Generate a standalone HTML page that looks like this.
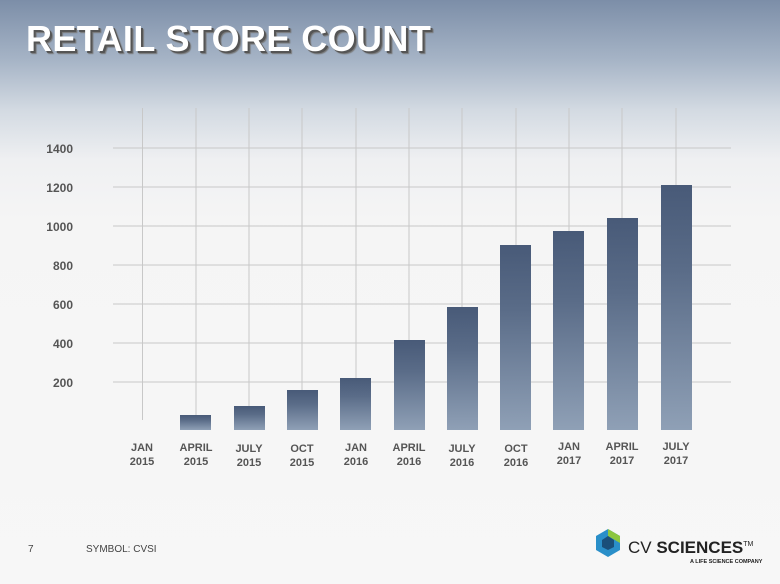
<!DOCTYPE html>
<html><head><style>
body{margin:0;width:780px;height:584px;overflow:hidden;font-family:"Liberation Sans",Arial,sans-serif;}
#bg{position:absolute;left:0;top:0;width:780px;height:584px;background:linear-gradient(to bottom,#7c8ea8 0px,#a6b4c6 60px,#d3dae2 110px,#eff0f2 160px,#f5f5f5 220px,#f7f7f7 584px);}
h1{position:absolute;left:26px;top:18px;margin:0;font-size:36px;font-weight:bold;color:#fff;letter-spacing:0.4px;text-shadow:2px 2px 0 #555,3px 3px 1px #777;}
</style></head><body>
<div id="bg"></div>
<h1>RETAIL STORE COUNT</h1>
<svg width="780" height="584" style="position:absolute;left:0;top:0" font-family="Liberation Sans, Arial, sans-serif">
<defs><linearGradient id="g" x1="0" y1="0" x2="0" y2="1"><stop offset="0" stop-color="#485a78"/><stop offset="0.35" stop-color="#5a6c88"/><stop offset="1" stop-color="#8fa0b6"/></linearGradient></defs>
<g stroke="#c8c8c8" stroke-width="1">
<line x1="113" y1="148" x2="731" y2="148"/><line x1="113" y1="187" x2="731" y2="187"/><line x1="113" y1="226" x2="731" y2="226"/><line x1="113" y1="265" x2="731" y2="265"/><line x1="113" y1="304" x2="731" y2="304"/><line x1="113" y1="343" x2="731" y2="343"/><line x1="113" y1="382" x2="731" y2="382"/>
<line x1="142.5" y1="108" x2="142.5" y2="420"/><line x1="196" y1="108" x2="196" y2="420"/><line x1="249" y1="108" x2="249" y2="420"/><line x1="302" y1="108" x2="302" y2="420"/><line x1="356" y1="108" x2="356" y2="420"/><line x1="409" y1="108" x2="409" y2="420"/><line x1="462" y1="108" x2="462" y2="420"/><line x1="516" y1="108" x2="516" y2="420"/><line x1="569" y1="108" x2="569" y2="420"/><line x1="622" y1="108" x2="622" y2="420"/><line x1="676" y1="108" x2="676" y2="420"/>
</g>
<g fill="url(#g)">
<rect x="180" y="415" width="31" height="15"/><rect x="234" y="406" width="31" height="24"/><rect x="287" y="390" width="31" height="40"/><rect x="340" y="378" width="31" height="52"/><rect x="394" y="340" width="31" height="90"/><rect x="447" y="307" width="31" height="123"/><rect x="500" y="245" width="31" height="185"/><rect x="553" y="231" width="31" height="199"/><rect x="607" y="218" width="31" height="212"/><rect x="661" y="185" width="31" height="245"/>
</g>
<g fill="#555" font-size="12" font-weight="bold" text-anchor="end">
<text x="73" y="153">1400</text><text x="73" y="192">1200</text><text x="73" y="231">1000</text><text x="73" y="270">800</text><text x="73" y="309">600</text><text x="73" y="348">400</text><text x="73" y="387">200</text>
</g>
<g fill="#555" font-size="11" font-weight="bold" text-anchor="middle">
<text x="142" y="451">JAN</text><text x="142" y="465">2015</text>
<text x="196" y="451">APRIL</text><text x="196" y="465">2015</text>
<text x="249" y="452">JULY</text><text x="249" y="466">2015</text>
<text x="302" y="452">OCT</text><text x="302" y="466">2015</text>
<text x="356" y="451">JAN</text><text x="356" y="465">2016</text>
<text x="409" y="451">APRIL</text><text x="409" y="465">2016</text>
<text x="462" y="452">JULY</text><text x="462" y="466">2016</text>
<text x="516" y="452">OCT</text><text x="516" y="466">2016</text>
<text x="569" y="450">JAN</text><text x="569" y="464">2017</text>
<text x="622" y="450">APRIL</text><text x="622" y="464">2017</text>
<text x="676" y="450">JULY</text><text x="676" y="464">2017</text>
</g>
<text x="28" y="552" font-size="10" fill="#444">7</text>
<text x="86" y="552" font-size="10" fill="#444">SYMBOL: CVSI</text>
<g transform="translate(596,529)">
<polygon points="12,0 24,7 24,21 12,28 0,21 0,7" fill="#2a8fc9"/>
<polygon points="12,0 24,7 24,14 12,7" fill="#8cc63f"/>
<polygon points="12,7 18,11 18,18 12,21 6,18 6,11" fill="#1a4f7a"/>
</g>
<text x="628" y="553" font-size="17" fill="#222">CV <tspan font-weight="bold" font-size="17">SCIENCES</tspan><tspan font-size="7" dy="-7">TM</tspan></text>
<text x="690" y="563" font-size="5.5" font-weight="bold" fill="#222">A LIFE SCIENCE COMPANY</text>
</svg>
</body></html>
